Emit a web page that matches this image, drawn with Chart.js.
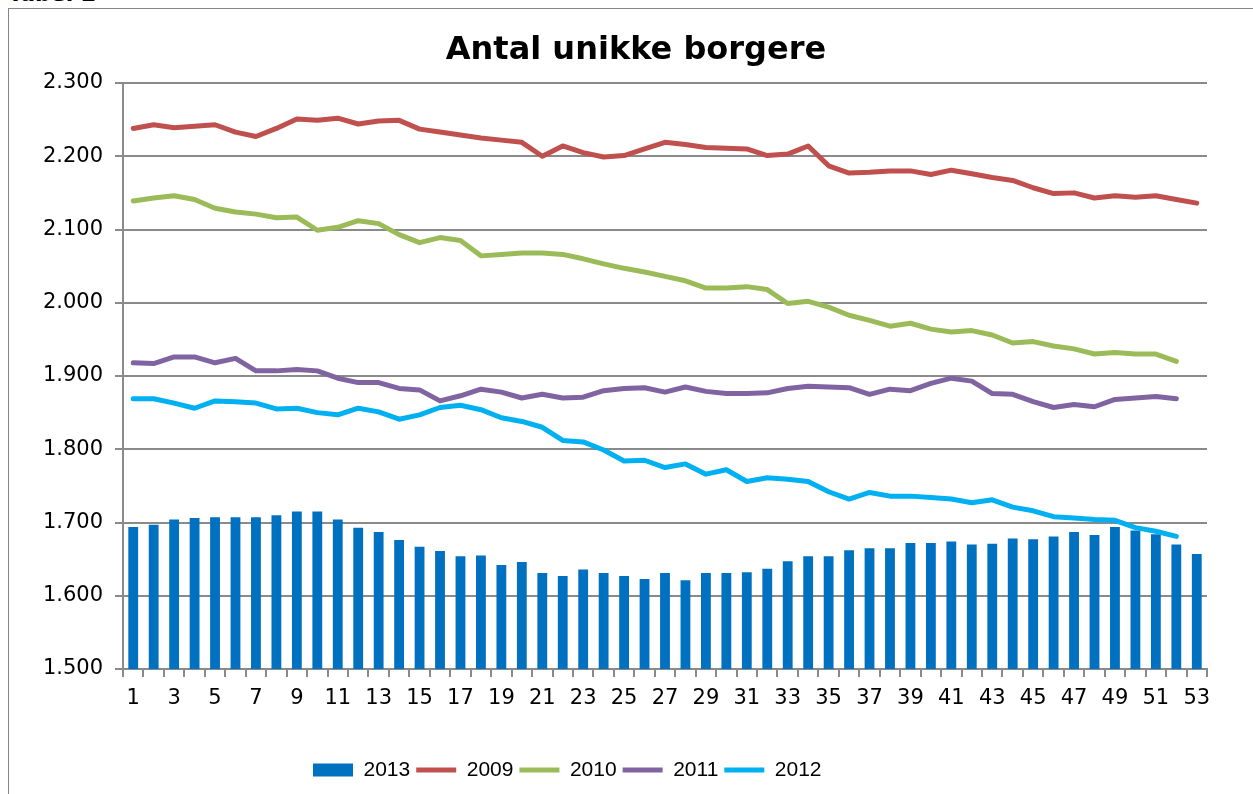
<!DOCTYPE html>
<html>
<head>
<meta charset="utf-8">
<script src="https://cdn.jsdelivr.net/npm/chart.js@4/dist/chart.umd.min.js"></script>
<style>
  html, body { margin:0; padding:0; background:#fff; overflow:hidden; }
  body { width:1253px; height:794px; position:relative; }
  #tabel { position:absolute; left:8px; top:-19px; font:bold 22px 'DejaVu Sans', sans-serif; color:#000; }
  #frame { position:absolute; left:8px; top:8px; width:1245px; height:786px;
           border-left:1px solid #868686; border-top:1px solid #868686; }
  #ch { position:absolute; left:0; top:0; }
</style>
</head>
<body>
<div id="tabel">Tabel 2</div>
<div id="frame"><canvas id="ch" width="1244" height="785"></canvas></div>
<script>
// ---- data
const weeks = Array.from({length:53}, (_, i) => String(i + 1));
const y2013 = [1694,1697,1704,1706,1707,1707,1707,1710,1715,1715,
               1704,1693,1687,1676,1667,1661,1654,1655,1642,1646,
               1631,1627,1636,1631,1627,1623,1631,1621,1631,1631,
               1632,1637,1647,1654,1654,1662,1665,1665,1672,1672,
               1674,1670,1671,1678,1677,1681,1687,1683,1694,1689,
               1684,1670,1657];
const y2009 = [2238,2243,2239,2241,2243,2233,2227,2238,2251,2249,
               2252,2244,2248,2249,2237,2233,2229,2225,2222,2219,
               2200,2214,2205,2199,2201,2210,2219,2216,2212,2211,
               2210,2201,2203,2214,2187,2177,2178,2180,2180,2175,
               2181,2176,2171,2167,2157,2149,2150,2143,2146,2144,
               2146,2141,2136];
const y2010 = [2139,2143,2146,2141,2129,2124,2121,2116,2117,2099,
               2103,2112,2108,2093,2082,2089,2085,2064,2066,2068,
               2068,2066,2060,2053,2047,2042,2036,2030,2020,2020,
               2022,2018,1999,2002,1994,1983,1976,1968,1972,1964,
               1960,1962,1956,1945,1947,1941,1937,1930,1932,1930,
               1930,1920];
const y2011 = [1918,1917,1926,1926,1918,1924,1907,1907,1909,1907,
               1897,1891,1891,1883,1881,1866,1873,1882,1878,1870,
               1875,1870,1871,1880,1883,1884,1878,1885,1879,1876,
               1876,1877,1883,1886,1885,1884,1875,1882,1880,1890,
               1897,1893,1876,1875,1865,1857,1861,1858,1868,1870,
               1872,1869];
const y2012 = [1869,1869,1863,1856,1866,1865,1863,1855,1856,1850,
               1847,1856,1851,1841,1847,1857,1860,1854,1843,1838,
               1830,1812,1810,1799,1784,1785,1775,1780,1766,1772,
               1756,1761,1759,1756,1742,1732,1741,1736,1736,1734,
               1732,1727,1731,1721,1716,1708,1706,1704,1703,1693,
               1688,1681];
const yMin = 1500, yMax = 2300, yStep = 100;

// ---- util
const fmtDa = v => { const s = String(v); return s.length > 3 ? s.slice(0, -3) + '.' + s.slice(-3) : s; };
const GRID = '#8a8a8a';
const FONT = "'DejaVu Sans', Verdana, sans-serif";

const line = (label, data, color) => ({
  type:'line', label, data, order:0,
  borderColor:color, backgroundColor:color,
  borderWidth:5, pointRadius:0, tension:0,
  borderCapStyle:'round', borderJoinStyle:'round'
});

// title and legend sit off-centre in the original: nudge them after layout
const nudge = {
  id:'nudge',
  afterLayout(c){
    const tb = c.titleBlock;
    if (tb) { const dx = 627 - (tb.left + tb.right) / 2; tb.left += dx; tb.right += dx; }
    const lg = c.legend;
    if (lg && lg.lineWidths) {
      const pad = lg.options.labels.padding;
      const start = (lg.left + pad + lg.right - lg.lineWidths[0]) / 2;
      const dx = 304 - start;
      lg.left += dx; lg.right += dx;
    }
  }
};

new Chart(document.getElementById('ch'), {
  type:'bar',
  data:{
    labels: weeks,
    datasets:[
      { label:'2013', data:y2013, order:1, backgroundColor:'#0070C0', borderWidth:0,
        barPercentage:0.48, categoryPercentage:1 },
      line('2009', y2009, '#C0504D'),
      line('2010', y2010, '#9BBB59'),
      line('2011', y2011, '#8064A2'),
      line('2012', y2012, '#00B0F0')
    ]
  },
  plugins:[nudge],
  options:{
    responsive:false, animation:false, devicePixelRatio:1,
    layout:{ padding:{ left:0, right:46, top:0, bottom:3.5 } },
    scales:{
      x:{
        offset:true,
        grid:{ offset:true, drawOnChartArea:false, drawTicks:true, tickLength:8, color:GRID, lineWidth:2 },
        border:{ color:GRID, width:2 },
        ticks:{ autoSkip:false, maxRotation:0, padding:9, color:'#000',
                font:{ family:FONT, size:21 },
                callback:(v, i) => i % 2 === 0 ? weeks[i] : '' },
        afterFit: s => { s.height = 84.5; }
      },
      y:{
        min:yMin, max:yMax,
        grid:{ color:GRID, lineWidth:2, drawTicks:true, tickLength:8 },
        border:{ color:GRID, width:2 },
        ticks:{ stepSize:yStep, padding:12, color:'#000',
                font:{ family:FONT, size:21 },
                callback: v => fmtDa(v) },
        afterFit: s => { s.width = 114; }
      }
    },
    plugins:{
      title:{ display:true, text:'Antal unikke borgere', color:'#000',
              font:{ family:FONT, size:32, weight:'bold' },
              padding:{ top:22, bottom:13.6 } },
      legend:{
        position:'bottom',
        labels:{
          usePointStyle:true, pointStyleWidth:40, boxHeight:13, padding:6, color:'#000',
          font:{ family:"'Liberation Sans Narrow', 'Liberation Sans', sans-serif", size:21 },
          generateLabels(c){
            const items = Chart.defaults.plugins.legend.labels.generateLabels(c);
            items.sort((a, b) => a.datasetIndex - b.datasetIndex);
            items.forEach(it => {
              it.pointStyle = it.datasetIndex === 0 ? 'rect' : 'line';
              if (it.datasetIndex !== 0) it.lineWidth = 5;
            });
            return items;
          }
        }
      },
      tooltip:{ enabled:false }
    }
  }
});
</script>
</body>
</html>
